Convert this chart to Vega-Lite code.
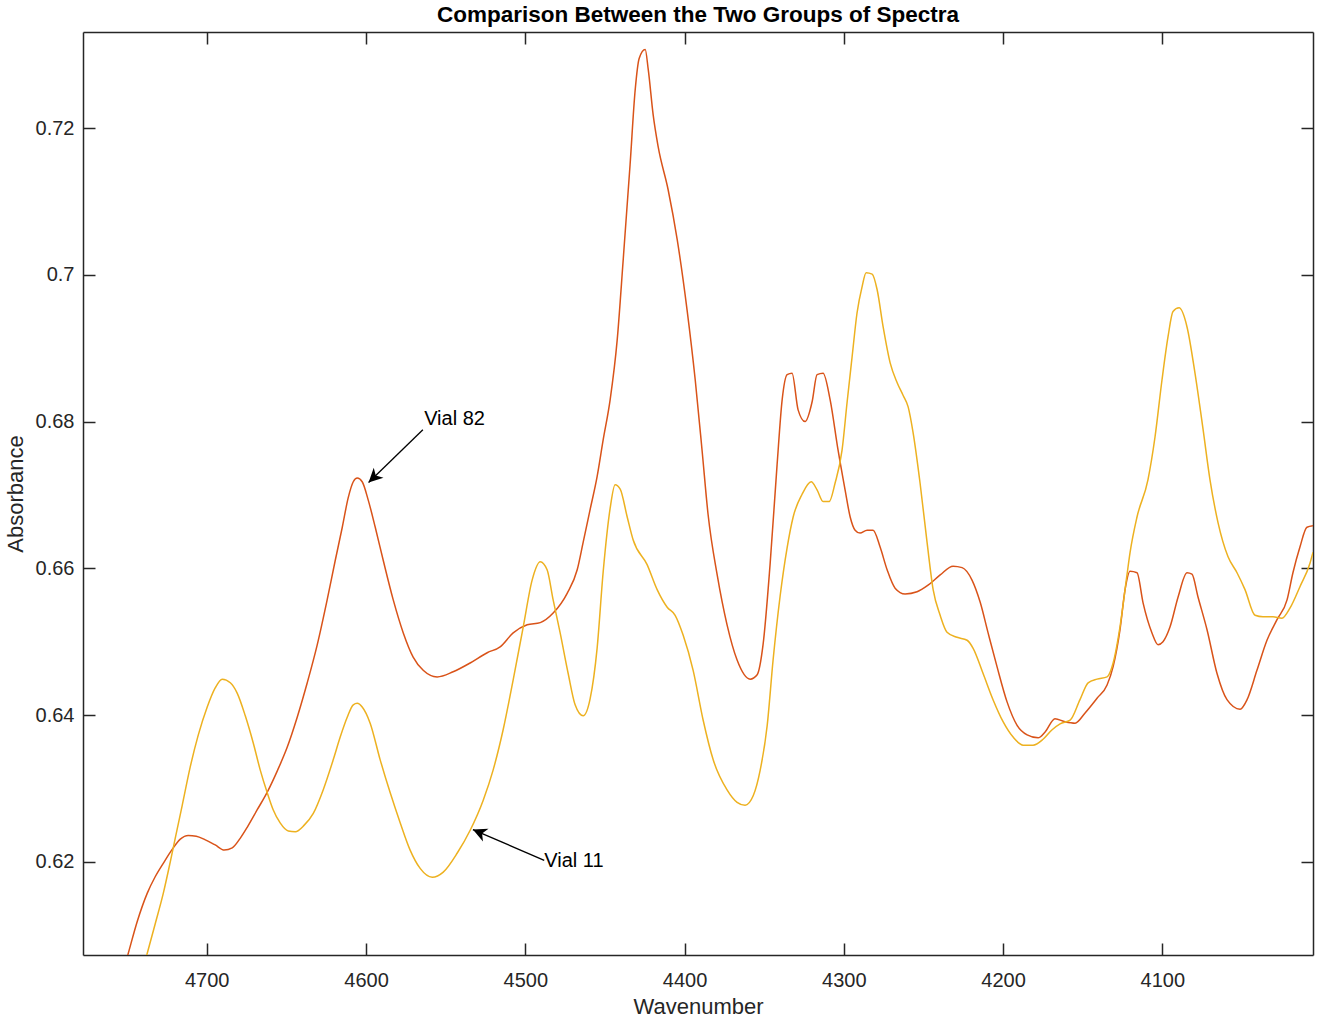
{
  "$schema": "https://vega.github.io/schema/vega-lite/v6.json",
  "autosize": "none",
  "padding": {"left": 83, "top": 32, "right": 9, "bottom": 68},
  "width": 1230,
  "height": 923,
  "background": "white",
  "title": {"text": "Comparison Between the Two Groups of Spectra", "fontSize": 22.5, "fontWeight": "bold", "font": "Liberation Sans", "color": "#000000", "anchor": "middle", "offset": 5},
  "config": {
    "view": {"stroke": null},
    "axis": {"domainColor": "#262626", "domainWidth": 1.5, "tickColor": "#262626", "tickWidth": 1.5, "tickSize": -12, "labelColor": "#262626", "labelFont": "Liberation Sans", "labelFontSize": 20, "titleFont": "Liberation Sans", "titleFontSize": 22, "titleFontWeight": "normal", "titleColor": "#262626", "grid": false}
  },
  "datasets": {
    "vial82": [
      {"wn": 4754.3, "abs": 0.6036}, {"wn": 4749.3, "abs": 0.6075}, {"wn": 4743.6, "abs": 0.6119}, {"wn": 4737.4, "abs": 0.6157},
      {"wn": 4732.3, "abs": 0.6180}, {"wn": 4727.3, "abs": 0.6198}, {"wn": 4721.7, "abs": 0.6217}, {"wn": 4716.6, "abs": 0.6231},
      {"wn": 4711.6, "abs": 0.6236}, {"wn": 4706.6, "abs": 0.6235}, {"wn": 4700.9, "abs": 0.6230}, {"wn": 4694.7, "abs": 0.6223},
      {"wn": 4689.0, "abs": 0.6216}, {"wn": 4684.0, "abs": 0.6219}, {"wn": 4679.0, "abs": 0.6232}, {"wn": 4674.6, "abs": 0.6247},
      {"wn": 4668.3, "abs": 0.6271}, {"wn": 4662.0, "abs": 0.6295}, {"wn": 4655.7, "abs": 0.6324}, {"wn": 4649.5, "abs": 0.6356},
      {"wn": 4643.2, "abs": 0.6397}, {"wn": 4636.9, "abs": 0.6444}, {"wn": 4630.6, "abs": 0.6496}, {"wn": 4624.4, "abs": 0.6557},
      {"wn": 4619.3, "abs": 0.6611}, {"wn": 4614.9, "abs": 0.6656}, {"wn": 4611.2, "abs": 0.6696}, {"wn": 4608.0, "abs": 0.6718},
      {"wn": 4605.5, "abs": 0.6723}, {"wn": 4602.4, "abs": 0.6718}, {"wn": 4598.6, "abs": 0.6693}, {"wn": 4594.2, "abs": 0.6656},
      {"wn": 4589.2, "abs": 0.6611}, {"wn": 4582.9, "abs": 0.6557}, {"wn": 4576.6, "abs": 0.6512}, {"wn": 4570.4, "abs": 0.6479},
      {"wn": 4564.1, "abs": 0.6461}, {"wn": 4555.3, "abs": 0.6452}, {"wn": 4545.3, "abs": 0.6459}, {"wn": 4534.6, "abs": 0.6471},
      {"wn": 4523.9, "abs": 0.6485}, {"wn": 4515.8, "abs": 0.6493}, {"wn": 4507.6, "abs": 0.6512}, {"wn": 4498.8, "abs": 0.6523},
      {"wn": 4490.6, "abs": 0.6526}, {"wn": 4482.5, "abs": 0.6539}, {"wn": 4473.7, "abs": 0.6566}, {"wn": 4467.4, "abs": 0.6598},
      {"wn": 4463.7, "abs": 0.6635}, {"wn": 4459.3, "abs": 0.6680}, {"wn": 4454.9, "abs": 0.6725}, {"wn": 4451.1, "abs": 0.6775},
      {"wn": 4446.7, "abs": 0.6830}, {"wn": 4442.3, "abs": 0.6911}, {"wn": 4438.5, "abs": 0.7021}, {"wn": 4434.2, "abs": 0.7150},
      {"wn": 4431.0, "abs": 0.7252}, {"wn": 4428.5, "abs": 0.7295}, {"wn": 4424.7, "abs": 0.7307}, {"wn": 4422.8, "abs": 0.7280},
      {"wn": 4419.7, "abs": 0.7218}, {"wn": 4416.6, "abs": 0.7175}, {"wn": 4410.3, "abs": 0.7116}, {"wn": 4404.6, "abs": 0.7048},
      {"wn": 4398.4, "abs": 0.6952}, {"wn": 4393.3, "abs": 0.6857}, {"wn": 4389.0, "abs": 0.6761}, {"wn": 4385.2, "abs": 0.6673},
      {"wn": 4379.5, "abs": 0.6591}, {"wn": 4373.3, "abs": 0.6523}, {"wn": 4367.0, "abs": 0.6475}, {"wn": 4358.8, "abs": 0.6449},
      {"wn": 4354.4, "abs": 0.6455}, {"wn": 4350.7, "abs": 0.6496}, {"wn": 4346.3, "abs": 0.6605}, {"wn": 4341.9, "abs": 0.6741},
      {"wn": 4338.7, "abs": 0.6830}, {"wn": 4335.6, "abs": 0.6864}, {"wn": 4332.5, "abs": 0.6866}, {"wn": 4328.7, "abs": 0.6816},
      {"wn": 4324.3, "abs": 0.6800}, {"wn": 4319.9, "abs": 0.6827}, {"wn": 4316.8, "abs": 0.6864}, {"wn": 4313.0, "abs": 0.6866},
      {"wn": 4308.6, "abs": 0.6830}, {"wn": 4303.6, "abs": 0.6761}, {"wn": 4299.2, "abs": 0.6707}, {"wn": 4296.0, "abs": 0.6670},
      {"wn": 4292.9, "abs": 0.6652}, {"wn": 4289.8, "abs": 0.6648}, {"wn": 4285.4, "abs": 0.6652}, {"wn": 4281.6, "abs": 0.6652},
      {"wn": 4277.2, "abs": 0.6629}, {"wn": 4272.8, "abs": 0.6598}, {"wn": 4267.8, "abs": 0.6573}, {"wn": 4261.5, "abs": 0.6565},
      {"wn": 4254.0, "abs": 0.6568}, {"wn": 4247.1, "abs": 0.6577}, {"wn": 4239.5, "abs": 0.6591}, {"wn": 4231.4, "abs": 0.6603},
      {"wn": 4225.7, "abs": 0.6601}, {"wn": 4219.5, "abs": 0.6584}, {"wn": 4214.4, "abs": 0.6554}, {"wn": 4209.4, "abs": 0.6512},
      {"wn": 4203.8, "abs": 0.6466}, {"wn": 4197.5, "abs": 0.6418}, {"wn": 4191.2, "abs": 0.6386}, {"wn": 4184.9, "abs": 0.6373},
      {"wn": 4178.0, "abs": 0.6369}, {"wn": 4173.6, "abs": 0.6377}, {"wn": 4167.4, "abs": 0.6395}, {"wn": 4161.1, "abs": 0.6391},
      {"wn": 4154.8, "abs": 0.6389}, {"wn": 4148.5, "abs": 0.6403}, {"wn": 4141.0, "abs": 0.6423}, {"wn": 4134.7, "abs": 0.6441},
      {"wn": 4130.9, "abs": 0.6466}, {"wn": 4126.6, "abs": 0.6516}, {"wn": 4123.4, "abs": 0.6571}, {"wn": 4120.3, "abs": 0.6596},
      {"wn": 4115.9, "abs": 0.6594}, {"wn": 4112.1, "abs": 0.6553}, {"wn": 4106.5, "abs": 0.6512}, {"wn": 4102.7, "abs": 0.6496},
      {"wn": 4099.6, "abs": 0.6500}, {"wn": 4095.2, "abs": 0.6520}, {"wn": 4090.1, "abs": 0.6561}, {"wn": 4084.5, "abs": 0.6594},
      {"wn": 4081.4, "abs": 0.6592}, {"wn": 4077.6, "abs": 0.6561}, {"wn": 4071.9, "abs": 0.6516}, {"wn": 4065.7, "abs": 0.6457},
      {"wn": 4059.4, "abs": 0.6421}, {"wn": 4051.2, "abs": 0.6408}, {"wn": 4046.8, "abs": 0.6421}, {"wn": 4040.6, "abs": 0.6461},
      {"wn": 4034.3, "abs": 0.6502}, {"wn": 4028.0, "abs": 0.6530}, {"wn": 4021.7, "abs": 0.6557}, {"wn": 4018.0, "abs": 0.6594},
      {"wn": 4013.6, "abs": 0.6629}, {"wn": 4009.2, "abs": 0.6656}, {"wn": 4005.4, "abs": 0.6658}
    ],
    "vial11": [
      {"wn": 4739.9, "abs": 0.6055}, {"wn": 4737.4, "abs": 0.6075}, {"wn": 4732.3, "abs": 0.6116}, {"wn": 4727.3, "abs": 0.6157},
      {"wn": 4722.9, "abs": 0.6200}, {"wn": 4719.8, "abs": 0.6232}, {"wn": 4715.4, "abs": 0.6277}, {"wn": 4710.4, "abs": 0.6329},
      {"wn": 4705.3, "abs": 0.6373}, {"wn": 4699.7, "abs": 0.6411}, {"wn": 4694.7, "abs": 0.6437}, {"wn": 4690.3, "abs": 0.6449},
      {"wn": 4685.2, "abs": 0.6444}, {"wn": 4680.9, "abs": 0.6430}, {"wn": 4675.8, "abs": 0.6399}, {"wn": 4670.8, "abs": 0.6362},
      {"wn": 4666.4, "abs": 0.6325}, {"wn": 4662.0, "abs": 0.6294}, {"wn": 4658.3, "abs": 0.6271}, {"wn": 4653.9, "abs": 0.6253},
      {"wn": 4648.8, "abs": 0.6242}, {"wn": 4644.4, "abs": 0.6241}, {"wn": 4638.8, "abs": 0.6250}, {"wn": 4633.1, "abs": 0.6266},
      {"wn": 4626.9, "abs": 0.6298}, {"wn": 4620.6, "abs": 0.6339}, {"wn": 4616.2, "abs": 0.6370}, {"wn": 4611.8, "abs": 0.6397},
      {"wn": 4608.0, "abs": 0.6414}, {"wn": 4605.5, "abs": 0.6416}, {"wn": 4602.4, "abs": 0.6411}, {"wn": 4597.4, "abs": 0.6389},
      {"wn": 4591.1, "abs": 0.6339}, {"wn": 4584.8, "abs": 0.6294}, {"wn": 4578.5, "abs": 0.6253}, {"wn": 4572.3, "abs": 0.6216},
      {"wn": 4566.0, "abs": 0.6191}, {"wn": 4558.4, "abs": 0.6179}, {"wn": 4551.5, "abs": 0.6186}, {"wn": 4542.7, "abs": 0.6212},
      {"wn": 4534.6, "abs": 0.6243}, {"wn": 4526.4, "abs": 0.6284}, {"wn": 4520.2, "abs": 0.6325}, {"wn": 4513.9, "abs": 0.6380},
      {"wn": 4507.6, "abs": 0.6448}, {"wn": 4501.3, "abs": 0.6520}, {"wn": 4495.7, "abs": 0.6584}, {"wn": 4490.6, "abs": 0.6609},
      {"wn": 4486.3, "abs": 0.6598}, {"wn": 4482.5, "abs": 0.6557}, {"wn": 4478.1, "abs": 0.6512}, {"wn": 4473.1, "abs": 0.6457},
      {"wn": 4468.7, "abs": 0.6414}, {"wn": 4463.7, "abs": 0.6399}, {"wn": 4459.3, "abs": 0.6422}, {"wn": 4454.9, "abs": 0.6491},
      {"wn": 4451.1, "abs": 0.6595}, {"wn": 4446.7, "abs": 0.6682}, {"wn": 4443.6, "abs": 0.6714}, {"wn": 4440.4, "abs": 0.6708},
      {"wn": 4436.0, "abs": 0.6670}, {"wn": 4432.3, "abs": 0.6639}, {"wn": 4423.5, "abs": 0.6605}, {"wn": 4417.2, "abs": 0.6571},
      {"wn": 4410.9, "abs": 0.6547}, {"wn": 4405.9, "abs": 0.6536}, {"wn": 4400.9, "abs": 0.6509}, {"wn": 4394.6, "abs": 0.6461},
      {"wn": 4388.3, "abs": 0.6393}, {"wn": 4382.0, "abs": 0.6339}, {"wn": 4373.3, "abs": 0.6298}, {"wn": 4367.0, "abs": 0.6281},
      {"wn": 4362.0, "abs": 0.6277}, {"wn": 4356.9, "abs": 0.6290}, {"wn": 4352.5, "abs": 0.6325}, {"wn": 4348.1, "abs": 0.6386},
      {"wn": 4344.4, "abs": 0.6475}, {"wn": 4340.0, "abs": 0.6562}, {"wn": 4335.6, "abs": 0.6628}, {"wn": 4331.8, "abs": 0.6670},
      {"wn": 4326.2, "abs": 0.6701}, {"wn": 4320.5, "abs": 0.6718}, {"wn": 4316.8, "abs": 0.6707}, {"wn": 4313.0, "abs": 0.6691},
      {"wn": 4309.2, "abs": 0.6691}, {"wn": 4305.5, "abs": 0.6716}, {"wn": 4301.1, "abs": 0.6761}, {"wn": 4297.9, "abs": 0.6827},
      {"wn": 4294.8, "abs": 0.6888}, {"wn": 4291.7, "abs": 0.6948}, {"wn": 4288.5, "abs": 0.6984}, {"wn": 4286.0, "abs": 0.7003},
      {"wn": 4282.2, "abs": 0.7001}, {"wn": 4279.1, "abs": 0.6980}, {"wn": 4275.3, "abs": 0.6929}, {"wn": 4270.9, "abs": 0.6880},
      {"wn": 4266.5, "abs": 0.6853}, {"wn": 4262.8, "abs": 0.6836}, {"wn": 4259.6, "abs": 0.6820}, {"wn": 4256.5, "abs": 0.6785},
      {"wn": 4252.1, "abs": 0.6716}, {"wn": 4247.7, "abs": 0.6635}, {"wn": 4243.9, "abs": 0.6571}, {"wn": 4239.5, "abs": 0.6536},
      {"wn": 4235.2, "abs": 0.6513}, {"wn": 4228.9, "abs": 0.6506}, {"wn": 4222.6, "abs": 0.6502}, {"wn": 4218.8, "abs": 0.6491},
      {"wn": 4212.6, "abs": 0.6457}, {"wn": 4206.3, "abs": 0.6421}, {"wn": 4200.0, "abs": 0.6391}, {"wn": 4193.7, "abs": 0.6370},
      {"wn": 4187.4, "abs": 0.6359}, {"wn": 4181.2, "abs": 0.6359}, {"wn": 4174.9, "abs": 0.6367}, {"wn": 4169.2, "abs": 0.6380},
      {"wn": 4164.2, "abs": 0.6388}, {"wn": 4157.9, "abs": 0.6393}, {"wn": 4151.7, "abs": 0.6421}, {"wn": 4146.6, "abs": 0.6444},
      {"wn": 4141.0, "abs": 0.6449}, {"wn": 4134.7, "abs": 0.6452}, {"wn": 4130.9, "abs": 0.6471}, {"wn": 4126.6, "abs": 0.6520},
      {"wn": 4122.2, "abs": 0.6591}, {"wn": 4120.3, "abs": 0.6621}, {"wn": 4115.9, "abs": 0.6670}, {"wn": 4109.0, "abs": 0.6721},
      {"wn": 4104.6, "abs": 0.6779}, {"wn": 4100.2, "abs": 0.6857}, {"wn": 4096.4, "abs": 0.6916}, {"wn": 4093.3, "abs": 0.6950},
      {"wn": 4089.5, "abs": 0.6955}, {"wn": 4084.5, "abs": 0.6929}, {"wn": 4079.5, "abs": 0.6866}, {"wn": 4074.4, "abs": 0.6789},
      {"wn": 4070.1, "abs": 0.6721}, {"wn": 4065.0, "abs": 0.6662}, {"wn": 4058.8, "abs": 0.6616}, {"wn": 4053.1, "abs": 0.6594},
      {"wn": 4048.1, "abs": 0.6571}, {"wn": 4041.8, "abs": 0.6536}, {"wn": 4036.8, "abs": 0.6534}, {"wn": 4030.5, "abs": 0.6534},
      {"wn": 4024.9, "abs": 0.6532}, {"wn": 4019.8, "abs": 0.6546}, {"wn": 4013.6, "abs": 0.6575}, {"wn": 4007.3, "abs": 0.6607},
      {"wn": 4005.4, "abs": 0.6622}
    ],
    "notes": [
      {"label": "Vial 82", "wn0": 4564.3, "abs0": 0.6789, "wn1": 4598.4, "abs1": 0.6717, "tx": 4563.5, "ty": 0.6804},
      {"label": "Vial 11", "wn0": 4488.1, "abs0": 0.6202, "wn1": 4532.9, "abs1": 0.6244, "tx": 4488.1, "ty": 0.6201}
    ]
  },
  "layer": [
    {
      "data": {"name": "vial82"},
      "mark": {"type": "line", "color": "#D95319", "strokeWidth": 1.5, "clip": true, "interpolate": "monotone"},
      "encoding": {
        "x": {"field": "wn", "type": "quantitative",
              "scale": {"domain": [4005.4, 4777.7], "reverse": true, "nice": false, "zero": false},
              "axis": {"orient": "bottom", "values": [4100, 4200, 4300, 4400, 4500, 4600, 4700], "format": "d", "title": "Wavenumber", "labelPadding": 27, "titlePadding": 6}},
        "y": {"field": "abs", "type": "quantitative",
              "scale": {"domain": [0.6073, 0.7331], "nice": false, "zero": false},
              "axis": {"orient": "left", "values": [0.62, 0.64, 0.66, 0.68, 0.7, 0.72], "format": "~g", "title": "Absorbance", "labelPadding": 21, "titlePadding": 8}}
      }
    },
    {
      "data": {"name": "vial11"},
      "mark": {"type": "line", "color": "#EDB120", "strokeWidth": 1.5, "clip": true, "interpolate": "monotone"},
      "encoding": {
        "x": {"field": "wn", "type": "quantitative", "axis": null},
        "y": {"field": "abs", "type": "quantitative", "axis": null}
      }
    },
    {
      "data": {"name": "notes"},
      "mark": {"type": "rule", "color": "#000000", "strokeWidth": 1.3},
      "encoding": {
        "x": {"field": "wn0", "type": "quantitative",
              "axis": {"orient": "top", "values": [4100, 4200, 4300, 4400, 4500, 4600, 4700], "labels": false, "title": null}},
        "y": {"field": "abs0", "type": "quantitative",
              "axis": {"orient": "right", "values": [0.62, 0.64, 0.66, 0.68, 0.7, 0.72], "labels": false, "title": null}},
        "x2": {"field": "wn1"},
        "y2": {"field": "abs1"}
      }
    },
    {
      "data": {"name": "notes"},
      "transform": [{"filter": "datum.label === 'Vial 82'"}],
      "mark": {"type": "point", "shape": "M0,0L-0.7,1.4L0,1L0.7,1.4Z", "size": 400, "filled": true, "color": "#000000", "opacity": 1, "strokeWidth": 0, "angle": 225.9},
      "encoding": {
        "x": {"field": "wn1", "type": "quantitative", "axis": null},
        "y": {"field": "abs1", "type": "quantitative", "axis": null}
      }
    },
    {
      "data": {"name": "notes"},
      "transform": [{"filter": "datum.label === 'Vial 11'"}],
      "mark": {"type": "point", "shape": "M0,0L-0.7,1.4L0,1L0.7,1.4Z", "size": 400, "filled": true, "color": "#000000", "opacity": 1, "strokeWidth": 0, "angle": 293.3},
      "encoding": {
        "x": {"field": "wn1", "type": "quantitative", "axis": null},
        "y": {"field": "abs1", "type": "quantitative", "axis": null}
      }
    },
    {
      "data": {"name": "notes"},
      "mark": {"type": "text", "align": "left", "baseline": "middle", "font": "Liberation Sans", "fontSize": 20, "color": "#000000"},
      "encoding": {
        "x": {"field": "tx", "type": "quantitative", "axis": null},
        "y": {"field": "ty", "type": "quantitative", "axis": null},
        "text": {"field": "label"}
      }
    }
  ],
  "resolve": {"axis": {"x": "independent", "y": "independent"}}
}
